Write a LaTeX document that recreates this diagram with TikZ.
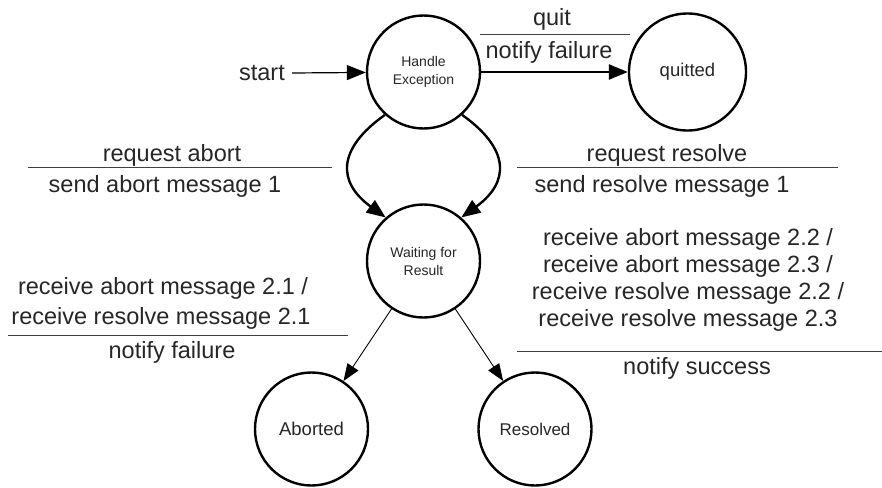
\documentclass[tikz,border=0pt]{standalone}
\usepackage{fontspec}
\setmainfont{Liberation Sans}
\usetikzlibrary{arrows.meta}
\begin{document}
\begin{tikzpicture}[x=1pt,y=-1pt,
  state/.style={circle,draw=black,line width=2.4pt,minimum size=113pt,inner sep=0pt,
    align=center,text=black!85,font=\fontsize{14}{18}\selectfont},
  bigstate/.style={state,font=\fontsize{18.5}{22}\selectfont},
  lbl/.style={anchor=base,inner sep=0pt,text=black!85,font=\fontsize{23.5}{27}\selectfont},
  bar/.style={line width=1pt,draw=black!75},
  heavy/.style={line width=2.4pt,-{Triangle[length=19pt,width=15pt]}},
  light/.style={line width=0.9pt,-{Triangle[length=17pt,width=13pt]}}]
\useasboundingbox (0,0) rectangle (882,487);

% states
\node[state] (he) at (423.5,72) {Handle\\Exception};
\node[bigstate,minimum size=117pt] (qu) at (687.5,72) {quitted};
\node[state] (wr) at (423.5,261) {Waiting for\\Result};
\node[bigstate] (ab) at (311.5,429) {Aborted};
\node[state,font=\fontsize{17}{20}\selectfont] (re) at (535,429) {Resolved};

% initial transition
\node[lbl,anchor=east,inner sep=0pt] (st) at (285,73) {start};
\draw[line width=1.2pt,-{Triangle[length=19pt,width=15pt]}] ([xshift=7pt]st.east) -- (he);

% quit transition
\draw[heavy] (he) -- (qu);
\node[lbl] (q1) at (552,26) {quit};
\draw[bar] (480,35) -- (630,35);
\node[lbl] (q2) at (549,59) {notify failure};

% abort / resolve requests
\draw[heavy] (he.228) .. controls (337,149) and (337,182) .. (wr.131);
\draw[heavy] (he.312) .. controls (510,149) and (510,182) .. (wr.49);

\node[lbl] (ra1) at (172,161) {request abort};
\draw[bar] (28,167) -- (332,167);
\node[lbl] (ra2) at (165,192) {send abort message 1};

\node[lbl] (rr1) at (667,161) {request resolve};
\draw[bar] (517,167) -- (838,167);
\node[lbl] (rr2) at (662,192) {send resolve message 1};

% outcomes
\draw[light] (wr) -- (ab);
\draw[light] (wr) -- (re);

\node[lbl] (fa1) at (163,294) {receive abort message 2.1 /};
\node[lbl] (fa2) at (161,324) {receive resolve message 2.1};
\draw[bar] (8,335) -- (348,335);
\node[lbl] (fa3) at (172,358) {notify failure};

\node[lbl] (su1) at (688,245) {receive abort message 2.2 /};
\node[lbl] (su2) at (688,272) {receive abort message 2.3 /};
\node[lbl] (su3) at (688,299) {receive resolve message 2.2 /};
\node[lbl] (su4) at (688,326) {receive resolve message 2.3};
\draw[bar] (517,351) -- (882,351);
\node[lbl] (su5) at (697,374) {notify success};
\end{tikzpicture}
\end{document}
